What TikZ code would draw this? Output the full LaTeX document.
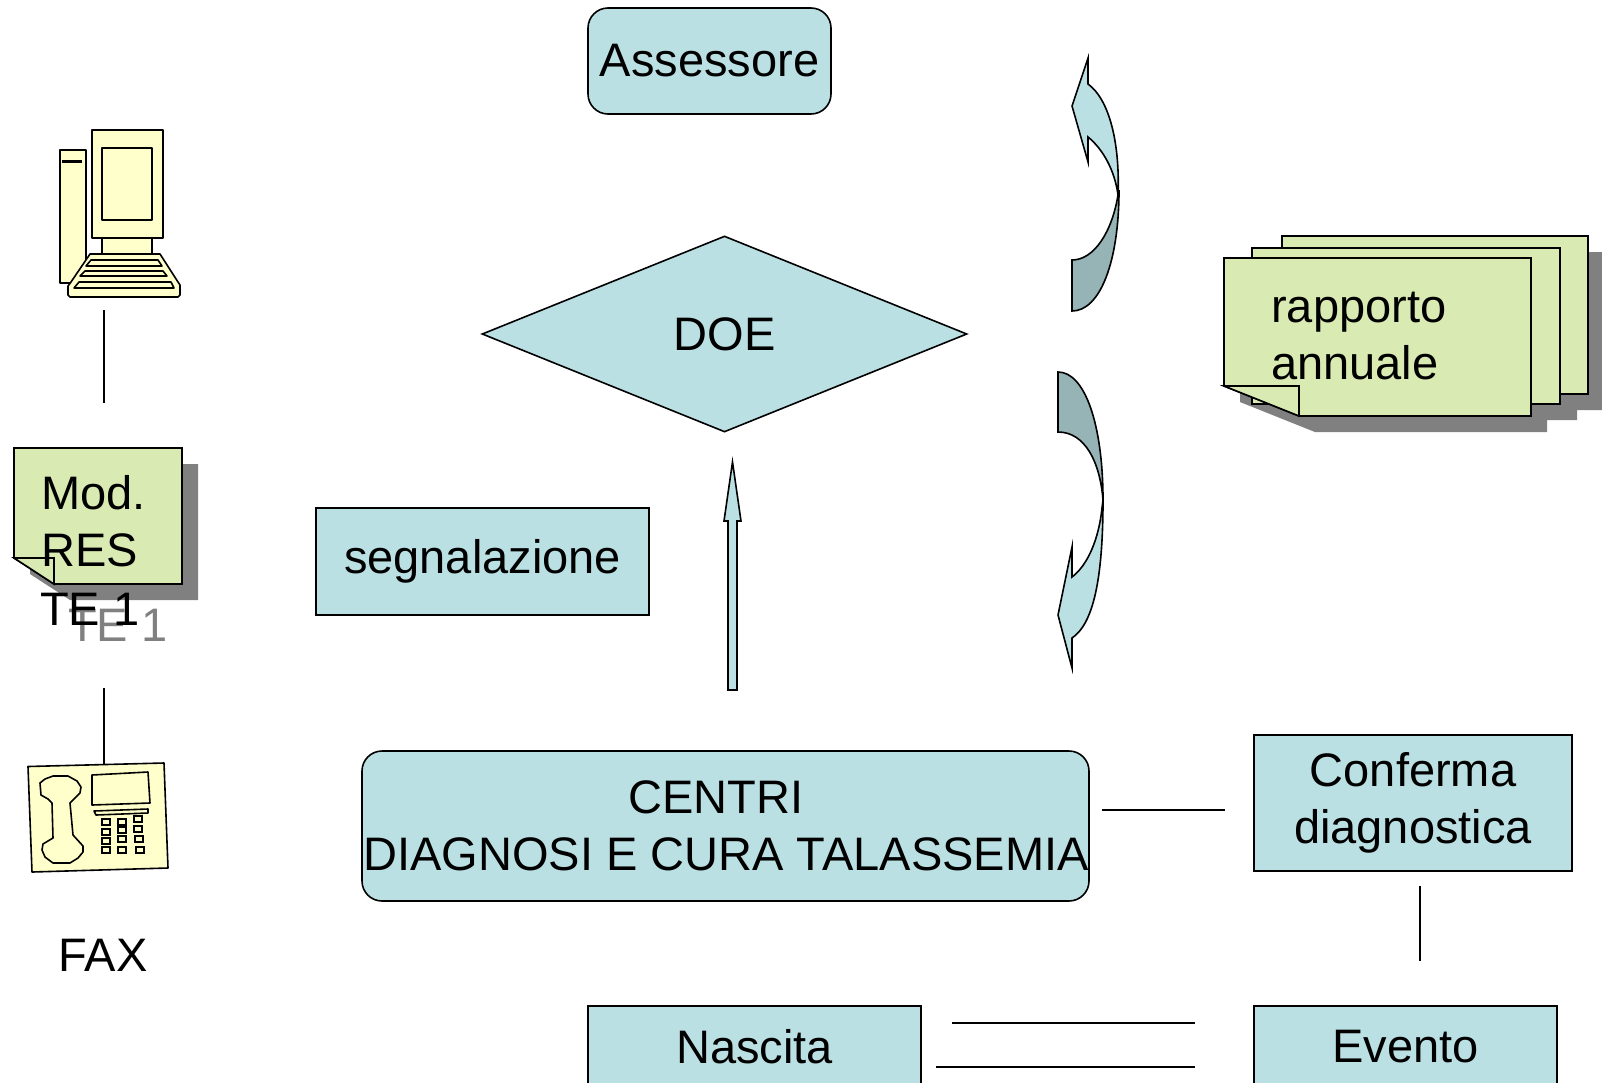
\documentclass[tikz,border=0pt]{standalone}
\usepackage{fontspec}
\setmainfont{Liberation Sans}
\usetikzlibrary{shapes.geometric}

\definecolor{boxblue}{HTML}{BBE0E3}
\definecolor{boxdark}{HTML}{96B3B6}
\definecolor{notegreen}{HTML}{D9EAB3}
\definecolor{iconyellow}{HTML}{FFFFCC}
\definecolor{shadowgrey}{HTML}{808080}

\def \linew {1.6}
\def \shift {16}

\tikzset{
  plainbox/.style={draw, line width=\linew, fill=boxblue, inner sep=0pt, align=center, font=\fontsize{47}{57}\selectfont},
  roundbox/.style={plainbox, rounded corners=20},
  label/.style={inner sep=0pt, align=left, font=\fontsize{47}{57}\selectfont},
  outline/.style={draw, line width=\linew},
  icon/.style={outline, fill=iconyellow, line join=round},
  page/.style={outline, fill=notegreen},
  link/.style={line width=\linew}
}

\begin{document}
\begin{tikzpicture}[x=1pt, y=-1pt]
\useasboundingbox (0,0) rectangle (1602,1082);
\clip (0,0) rectangle (1602,1082);

\draw (709.5,61) node[roundbox, minimum width=243, minimum height=106] (assessore) {Assessore};
\draw (724.5,334) node[plainbox, diamond, aspect=2.47, minimum width=485, minimum height=196] (doe) {DOE};
\draw (482.5,561.5) node[plainbox, minimum width=333, minimum height=107] (segnalazione) {segnalazione};
\draw (725.5,826) node[roundbox, minimum width=727, minimum height=150] (centri) {};
\draw (726,826) node[label, align=center] (centritext) {CENTRI\rule{20pt}{0pt}\\DIAGNOSI E CURA TALASSEMIA};
\draw (1413,803) node[plainbox, minimum width=318, minimum height=136] (conferma) {Conferma\\diagnostica};
\draw (1405.5,1047) node[plainbox, minimum width=303, minimum height=82] (evento) {Evento};
\draw (754.5,1047) node[plainbox, minimum width=333, minimum height=82] (nascita) {Nascita};

% arrow doe
\draw[outline, fill=boxblue] (728,690) -- (737,690) -- (737,521) -- (741,521) -- (732.5,462) -- (724,521) -- (728,521) -- cycle;

% curved arrow up
\draw[outline, fill=boxdark] (1118,195) .. controls (1112,232) and (1094,260) .. (1072,260) -- (1072,311) .. controls (1100,311) and (1119,262) .. (1119,190) -- cycle;
\draw[outline, fill=boxblue] (1088,58) -- (1072,106) -- (1088,162) -- (1088,137) .. controls (1104,150) and (1115,172) .. (1118,195) .. controls (1120,145) and (1110,100) .. (1088,84) -- cycle;

% curved arrow down
\draw[outline, fill=boxdark] (1058,372) .. controls (1085,372) and (1103,425) .. (1103,500) .. controls (1100,462) and (1085,432) .. (1058,432) -- cycle;
\draw[outline, fill=boxblue] (1102,508) .. controls (1099,538) and (1088,565) .. (1072,577) -- (1072,547) -- (1058,615) -- (1072,668) -- (1072,638) .. controls (1093,624) and (1103,580) .. (1103,500) -- cycle;

% rapporto annuale
\fill[shadowgrey] (1298,252) -- (1604,252) -- (1604,410) -- (1577,410) -- (1577,420) -- (1547,420) -- (1547,432) -- (1315,432) -- (1240,402) -- (1240,300) -- cycle;
\draw[page] (1282,236) rectangle (1588,394);
\draw[page] (1252,248) rectangle (1560,404);
\draw[page] (1224,258) -- (1531,258) -- (1531,416) -- (1299,416) -- (1224,386) -- cycle;
\draw[page] (1224,386) -- (1299,386) -- (1299,416) -- cycle;
\draw (1271,336) node[label, anchor=west] (rapporto) {rapporto\\annuale};

% computer
\draw[icon] (60,150) rectangle (86,283);
\fill (62,159.5) rectangle (82,163);
\draw[icon] (102,238) rectangle (152,256);
\draw[icon] (92,130) rectangle (163,238);
\draw[icon] (102,148) rectangle (152,220);
\draw[icon] (90,254) -- (160,254) -- (178,282) -- (180,285) -- (180,295) -- (178,297) -- (70,297) -- (68,295) -- (68,286) -- (71,282) -- cycle;
\draw[icon] (86,266) -- (91,260) -- (158,260) -- (162,266) -- cycle;
\draw[icon] (80,276) -- (85,271) -- (163,271) -- (167,276) -- cycle;
\draw[icon] (74,288) -- (79,282) -- (171,282) -- (174,288) -- cycle;

\coordinate (pctop) at (104,310);
\coordinate (pcbottom) at (104,403);
\draw[link] (pctop) -- (pcbottom);

% mod res
\fill[shadowgrey] (30,574) -- (30,464) -- (198,464) -- (198,600) -- (70,600) -- cycle;
\draw[page] (14,448) -- (182,448) -- (182,584) -- (54,584) -- (14,558) -- cycle;
\draw[page] (14,558) -- (54,558) -- (54,584) -- cycle;
\draw (41,521) node[label, anchor=west] (modres) {Mod.\\RES};
\draw (68,625) node[label, anchor=west, text=shadowgrey] (teshadow) {TE 1};
\draw (40,609) node[label, anchor=west] (te) {TE 1};

\coordinate (faxtop) at (104,688);
\coordinate (faxbottom) at (104,765);
\draw[link] (faxtop) -- (faxbottom);

% fax
\draw[icon] (28,766.5) -- (164,763) -- (168,868) -- (32,872) -- cycle;
\draw[icon] (92,775) -- (148,772) -- (150,803) -- (92,805) -- cycle;
\draw[icon] (94,811) -- (148,809) -- (148,813) -- (96,815) -- cycle;
\draw[icon] (40,783) -- (45,779) -- (53,776) -- (68,776) -- (77,781) -- (81,787) -- (80,793) -- (70,803) -- (73,835) -- (83,846) -- (83,852) -- (78,858) -- (70,863) -- (53,863) -- (45,857) -- (42,850) -- (43,844) -- (53,838) -- (52,803) -- (48,799) -- (41,795) -- cycle;
\foreach \keyx/\keyy in {106/822,106/832,106/841,106/850,122/822,122/830,122/839,122/850,138/819,138/829,139/839,140/850}
  \draw[line width=\linew] (\keyx-4,\keyy-3) rectangle (\keyx+4,\keyy+3);
\draw (103,955) node[label] (fax) {FAX};

% links on the right
\coordinate (centrilink) at (1102,810);
\coordinate (confermalink) at (1225,810);
\draw[link] (centrilink) -- (confermalink);
\coordinate (confermadown) at (1420,886);
\coordinate (eventoup) at (1420,961);
\draw[link] (confermadown) -- (eventoup);
\coordinate (nascitaone) at (952,1023);
\coordinate (eventoone) at (1195,1023);
\draw[link] (nascitaone) -- (eventoone);
\coordinate (nascitatwo) at (936,1067);
\coordinate (eventotwo) at (1195,1067);
\draw[link] (nascitatwo) -- (eventotwo);
\end{tikzpicture}
\end{document}
